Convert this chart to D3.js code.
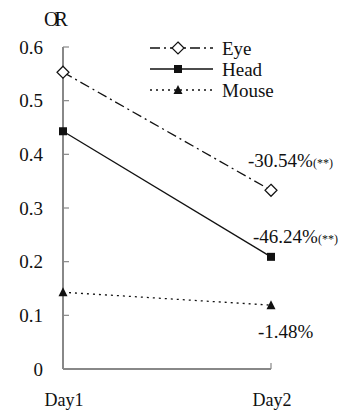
<!DOCTYPE html>
<html>
<head>
<meta charset="utf-8">
<script src="https://cdn.jsdelivr.net/npm/d3@7"></script>
<style>
  body { margin: 0; background: #fff; font-family: 'Liberation Serif', serif; }
</style>
</head>
<body>
<svg id="chart" width="362" height="412" font-family="Liberation Serif">
  <text id="title" x="44" y="26" font-size="20" letter-spacing="-4" fill="#111">OR</text>
</svg>
<script>
// Data
const days = ['Day1', 'Day2'];
const eyeValues = [0.553, 0.333];
const headValues = [0.443, 0.209];
const mouseValues = [0.143, 0.119];
const seriesNames = ['Eye', 'Head', 'Mouse'];
const changeLabels = ['-30.54%', '-46.24%', '-1.48%'];
const changeStars = ['(**)', '(**)', ''];
const yTicks = [0, 0.1, 0.2, 0.3, 0.4, 0.5, 0.6];

const svg = d3.select('#chart');

const x = d3.scalePoint().domain(days).range([63, 271]);
const y = d3.scaleLinear().domain([0, 0.6]).range([369, 47]);

// Series styles
const series = [
  { name: seriesNames[0], values: eyeValues, dash: '10,4,2,4', marker: 'diamond' },
  { name: seriesNames[1], values: headValues, dash: null, marker: 'square' },
  { name: seriesNames[2], values: mouseValues, dash: '2,4', marker: 'triangle' }
];

// Axes
const yAxis = svg.append('g').attr('transform', `translate(${x('Day1')},0)`);
yAxis.append('line')
  .attr('y1', y(0.6)).attr('y2', y(0))
  .attr('stroke', '#888').attr('stroke-width', 2);
yAxis.selectAll('line.tick')
  .data(yTicks)
  .join('line')
  .attr('class', 'tick')
  .attr('x1', 0).attr('x2', 6)
  .attr('y1', d => y(d)).attr('y2', d => y(d))
  .attr('stroke', '#888').attr('stroke-width', 1.2);
yAxis.selectAll('text')
  .data(yTicks)
  .join('text')
  .attr('x', -20)
  .attr('y', d => y(d))
  .attr('dy', '0.35em')
  .attr('text-anchor', 'end')
  .attr('font-size', '19px')
  .attr('fill', '#111')
  .text(d => d === 0 ? '0' : d3.format('.1f')(d));

svg.append('line')
  .attr('x1', x('Day1')).attr('x2', x('Day2'))
  .attr('y1', y(0)).attr('y2', y(0))
  .attr('stroke', '#888').attr('stroke-width', 2);
svg.append('line')
  .attr('x1', x('Day2')).attr('x2', x('Day2'))
  .attr('y1', y(0)).attr('y2', y(0) - 6)
  .attr('stroke', '#888').attr('stroke-width', 1.2);

svg.selectAll('text.day')
  .data(days)
  .join('text')
  .attr('class', 'day')
  .attr('x', d => x(d) + 1)
  .attr('y', 406)
  .attr('text-anchor', 'middle')
  .attr('font-size', '18px')
  .attr('fill', '#111')
  .text(d => d);

const line = d3.line()
  .x((d, i) => x(days[i]))
  .y(d => y(d));

function drawMarker(g, type, cx, cy) {
  if (type === 'diamond') {
    g.append('path')
      .attr('d', `M${cx},${cy - 6}L${cx + 6},${cy}L${cx},${cy + 6}L${cx - 6},${cy}Z`)
      .attr('fill', '#fff').attr('stroke', '#111').attr('stroke-width', 1.2);
  } else if (type === 'square') {
    g.append('rect')
      .attr('x', cx - 4).attr('y', cy - 4).attr('width', 8).attr('height', 8)
      .attr('fill', '#111');
  } else {
    g.append('path')
      .attr('d', `M${cx},${cy - 5}L${cx + 4.5},${cy + 4}L${cx - 4.5},${cy + 4}Z`)
      .attr('fill', '#111');
  }
}

// Lines and markers
series.forEach(s => {
  const g = svg.append('g');
  g.append('path')
    .datum(s.values)
    .attr('d', line)
    .attr('fill', 'none')
    .attr('stroke', '#111')
    .attr('stroke-width', 1.3)
    .attr('stroke-dasharray', s.dash);
  s.values.forEach((v, i) => drawMarker(g, s.marker, x(days[i]), y(v)));
});

// Legend
const legend = svg.append('g');
series.forEach((s, i) => {
  const ly = 48 + i * 21;
  legend.append('line')
    .attr('x1', 150).attr('x2', 213)
    .attr('y1', ly).attr('y2', ly)
    .attr('stroke', '#111').attr('stroke-width', 1.3)
    .attr('stroke-dasharray', s.dash);
  drawMarker(legend, s.marker, 178, ly);
  legend.append('text')
    .attr('x', 222).attr('y', ly)
    .attr('dy', '0.35em')
    .attr('font-size', '19px')
    .attr('fill', '#111')
    .text(s.name);
});

// Change annotations
const annoPos = [[248, 167], [253, 243], [258, 338]];
changeLabels.forEach((lab, i) => {
  const t = svg.append('text')
    .attr('x', annoPos[i][0]).attr('y', annoPos[i][1])
    .attr('font-size', '19px')
    .attr('fill', '#111');
  t.append('tspan').text(lab);
  if (changeStars[i]) {
    t.append('tspan').attr('font-size', '12px').text(changeStars[i]);
  }
});
</script>
</body>
</html>
